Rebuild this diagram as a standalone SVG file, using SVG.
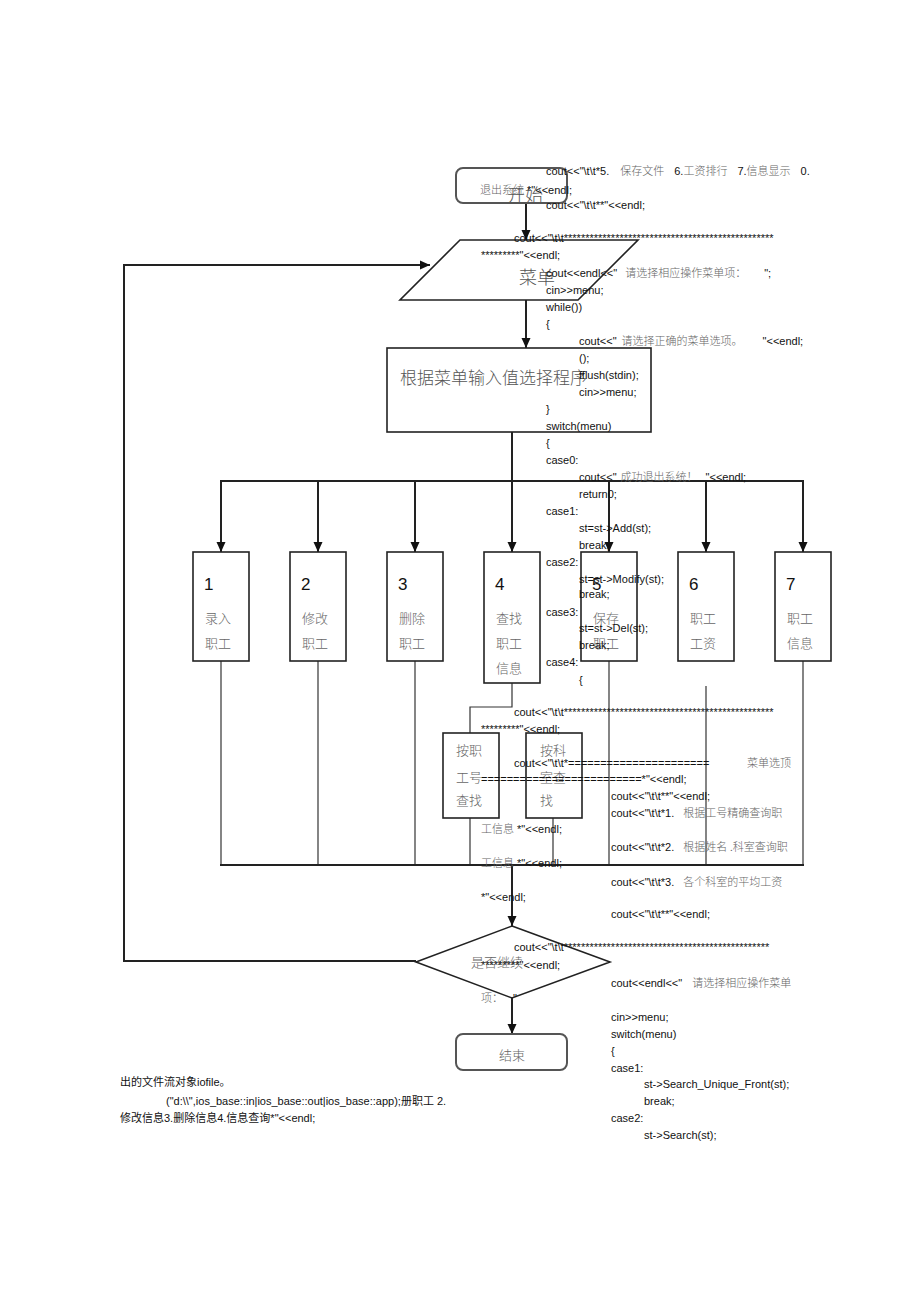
<svg xmlns="http://www.w3.org/2000/svg" width="920" height="1303" viewBox="0 0 920 1303">
<defs>
<marker id="ah" markerUnits="userSpaceOnUse" markerWidth="10" markerHeight="10" refX="10" refY="5" orient="auto">
<path d="M0,0.5 L10,5 L0,9.5 z" fill="#111"/>
</marker>
<style>
.bg{fill:#fff}
.box{fill:#fff;stroke:#222;stroke-width:1.6}
.rbox{fill:#fff;stroke:#555;stroke-width:2}
.ln{fill:none;stroke:#222;stroke-width:2}
.tl{fill:none;stroke:#333;stroke-width:1.2}
.big{font-family:"Liberation Serif","Noto Sans CJK SC",serif;font-size:18px;fill:#555;font-weight:300}
.lbl{font-family:"Liberation Serif","Noto Sans CJK SC",serif;font-size:13px;fill:#666;font-weight:300}
.num{font-family:"Liberation Sans",Arial,sans-serif;font-size:17px;fill:#111}
.code{font-family:"Liberation Sans","Noto Sans CJK SC",sans-serif;font-size:11px;fill:#111}
.cn{font-family:"Liberation Serif","Noto Sans CJK SC",serif;fill:#666;font-weight:300}
.bl{font-family:"Liberation Sans","Noto Sans CJK SC",sans-serif;font-size:11px;fill:#111}
</style>
</defs>
<rect class="bg" x="0" y="0" width="920" height="1303"/>

<g id="connectors">
<line class="ln" x1="526" y1="203" x2="526" y2="240" marker-end="url(#ah)"/>
<line class="ln" x1="526" y1="300" x2="526" y2="348" marker-end="url(#ah)"/>
<line class="ln" x1="512" y1="432" x2="512" y2="552" marker-end="url(#ah)"/>
<line class="ln" x1="220" y1="481" x2="804" y2="481"/>
<line class="ln" x1="221" y1="481" x2="221" y2="552" marker-end="url(#ah)"/>
<line class="ln" x1="318" y1="481" x2="318" y2="552" marker-end="url(#ah)"/>
<line class="ln" x1="415" y1="481" x2="415" y2="552" marker-end="url(#ah)"/>
<line class="ln" x1="609" y1="481" x2="609" y2="552" marker-end="url(#ah)"/>
<line class="ln" x1="706" y1="481" x2="706" y2="552" marker-end="url(#ah)"/>
<line class="ln" x1="803" y1="481" x2="803" y2="552" marker-end="url(#ah)"/>
<line class="tl" x1="221" y1="661" x2="221" y2="865"/>
<line class="tl" x1="318" y1="661" x2="318" y2="865"/>
<line class="tl" x1="415" y1="661" x2="415" y2="865"/>
<line class="tl" x1="609" y1="661" x2="609" y2="865"/>
<line class="tl" x1="706" y1="686" x2="706" y2="865"/>
<line class="tl" x1="803" y1="661" x2="803" y2="865"/>
<polyline class="tl" points="512,683 512,707 470,707 470,733"/>
<line class="tl" x1="470" y1="818" x2="470" y2="865"/>
<line class="tl" x1="553" y1="818" x2="553" y2="865"/>
<line class="ln" x1="220" y1="865" x2="804" y2="865"/>
<line class="ln" x1="512" y1="865" x2="512" y2="926" marker-end="url(#ah)"/>
<line class="ln" x1="512" y1="998" x2="512" y2="1034" marker-end="url(#ah)"/>
<polyline class="ln" points="416,961 124,961 124,265 430,265" marker-end="url(#ah)"/>
</g>

<g id="start">
<rect class="rbox" x="456" y="168" width="111" height="35" rx="7"/>
<text class="big" x="507" y="202">开始</text>
</g>

<g id="menu">
<polygon class="box" points="460,240 638,240 578,300 400,300"/>
<text class="big" x="519" y="284">菜单</text>
</g>

<g id="select">
<rect class="box" x="387" y="348" width="264" height="84"/>
<text class="big" x="400" y="384" style="font-size:17px">根据菜单输入值选择程序</text>
</g>

<g id="n1">
<rect class="box" x="193" y="552" width="56" height="109"/>
<text class="num" x="204" y="590">1</text>
<text class="lbl" x="205" y="623">录入</text>
<text class="lbl" x="205" y="648">职工</text>
</g>
<g id="n2">
<rect class="box" x="290" y="552" width="56" height="109"/>
<text class="num" x="301" y="590">2</text>
<text class="lbl" x="302" y="623">修改</text>
<text class="lbl" x="302" y="648">职工</text>
</g>
<g id="n3">
<rect class="box" x="387" y="552" width="56" height="109"/>
<text class="num" x="398" y="590">3</text>
<text class="lbl" x="399" y="623">删除</text>
<text class="lbl" x="399" y="648">职工</text>
</g>
<g id="n4">
<rect class="box" x="484" y="552" width="56" height="131"/>
<text class="num" x="495" y="590">4</text>
<text class="lbl" x="496" y="623">查找</text>
<text class="lbl" x="496" y="648">职工</text>
<text class="lbl" x="496" y="673">信息</text>
</g>
<g id="n5">
<rect class="box" x="581" y="552" width="56" height="109"/>
<text class="num" x="592" y="590">5</text>
<text class="lbl" x="593" y="623">保存</text>
<text class="lbl" x="593" y="648">职工</text>
</g>
<g id="n6">
<rect class="box" x="678" y="552" width="56" height="109"/>
<text class="num" x="689" y="590">6</text>
<text class="lbl" x="690" y="623">职工</text>
<text class="lbl" x="690" y="648">工资</text>
</g>
<g id="n7">
<rect class="box" x="775" y="552" width="56" height="109"/>
<text class="num" x="786" y="590">7</text>
<text class="lbl" x="787" y="623">职工</text>
<text class="lbl" x="787" y="648">信息</text>
</g>

<g id="s1">
<rect class="box" x="443" y="733" width="56" height="85"/>
<text class="lbl" x="456" y="755">按职</text>
<text class="lbl" x="456" y="782">工号</text>
<text class="lbl" x="456" y="805">查找</text>
</g>
<g id="s2">
<rect class="box" x="526" y="733" width="56" height="85"/>
<text class="lbl" x="540" y="755">按科</text>
<text class="lbl" x="540" y="782">室查</text>
<text class="lbl" x="540" y="805">找</text>
</g>

<g id="continue">
<polygon class="box" points="512,926 610,962 512,998 416,962"/>
<text class="lbl" x="471" y="967">是否继续</text>
</g>

<g id="end">
<rect class="rbox" x="456" y="1034" width="111" height="36" rx="7"/>
<text class="lbl" x="499" y="1060">结束</text>
</g>

<g id="code">
<text class="code" x="546" y="175">cout&lt;&lt;"\t\t*5.<tspan class="cn" dx="11">保存文件</tspan><tspan dx="10">6.</tspan><tspan class="cn">工资排行</tspan><tspan dx="10">7.</tspan><tspan class="cn">信息显示</tspan><tspan dx="10">0.</tspan></text>
<text class="code" x="480" y="194"><tspan class="cn">退出系统</tspan> *"&lt;&lt;endl;</text>
<text class="code" x="546" y="209">cout&lt;&lt;"\t\t**"&lt;&lt;endl;</text>
<text class="code" x="514" y="242">cout&lt;&lt;"\t\t*************************************************</text>
<text class="code" x="481" y="259">*********"&lt;&lt;endl;</text>
<text class="code" x="546" y="277">cout&lt;&lt;endl&lt;&lt;"<tspan class="cn" dx="8">请选择相应操作菜单项：</tspan><tspan dx="18">";</tspan></text>
<text class="code" x="546" y="294">cin&gt;&gt;menu;</text>
<text class="code" x="546" y="311">while())</text>
<text class="code" x="546" y="328">{</text>
<text class="code" x="579" y="345">cout&lt;&lt;"<tspan class="cn" dx="5">请选择正确的菜单选项。</tspan><tspan dx="20">"&lt;&lt;endl;</tspan></text>
<text class="code" x="579" y="362">();</text>
<text class="code" x="579" y="379">fflush(stdin);</text>
<text class="code" x="579" y="396">cin&gt;&gt;menu;</text>
<text class="code" x="546" y="413">}</text>
<text class="code" x="546" y="430">switch(menu)</text>
<text class="code" x="546" y="447">{</text>
<text class="code" x="546" y="464">case0:</text>
<text class="code" x="579" y="481">cout&lt;&lt;"<tspan class="cn" dx="4">成功退出系统！</tspan><tspan dx="8">"&lt;&lt;endl;</tspan></text>
<text class="code" x="579" y="498">return0;</text>
<text class="code" x="546" y="515">case1:</text>
<text class="code" x="579" y="532">st=st-&gt;Add(st);</text>
<text class="code" x="579" y="549">break;</text>
<text class="code" x="546" y="566">case2:</text>
<text class="code" x="579" y="583">st=st-&gt;Modify(st);</text>
<text class="code" x="579" y="598">break;</text>
<text class="code" x="546" y="616">case3:</text>
<text class="code" x="579" y="632">st=st-&gt;Del(st);</text>
<text class="code" x="579" y="649">break;</text>
<text class="code" x="546" y="666">case4:</text>
<text class="code" x="579" y="684">{</text>
<text class="code" x="514" y="716">cout&lt;&lt;"\t\t*************************************************</text>
<text class="code" x="481" y="733">*********"&lt;&lt;endl;</text>
<text class="code" x="514" y="767">cout&lt;&lt;"\t\t*======================<tspan class="cn" x="747">菜单选顶</tspan></text>
<text class="code" x="481" y="783">=========================*"&lt;&lt;endl;</text>
<text class="code" x="611" y="800">cout&lt;&lt;"\t\t**"&lt;&lt;endl;</text>
<text class="code" x="611" y="817">cout&lt;&lt;"\t\t*1.<tspan class="cn" dx="9">根据工号精确查询职</tspan></text>
<text class="code" x="481" y="833"><tspan class="cn">工信息</tspan> *"&lt;&lt;endl;</text>
<text class="code" x="611" y="851">cout&lt;&lt;"\t\t*2.<tspan class="cn" dx="9">根据姓名 .科室查询职</tspan></text>
<text class="code" x="481" y="867"><tspan class="cn">工信息</tspan> *"&lt;&lt;endl;</text>
<text class="code" x="611" y="886">cout&lt;&lt;"\t\t*3.<tspan class="cn" dx="9">各个科室的平均工资</tspan></text>
<text class="code" x="481" y="901">*"&lt;&lt;endl;</text>
<text class="code" x="611" y="918">cout&lt;&lt;"\t\t**"&lt;&lt;endl;</text>
<text class="code" x="514" y="951">cout&lt;&lt;"\t\t************************************************</text>
<text class="code" x="481" y="969">*********"&lt;&lt;endl;</text>
<text class="code" x="611" y="987">cout&lt;&lt;endl&lt;&lt;"<tspan class="cn" dx="10">请选择相应操作菜单</tspan></text>
<text class="code" x="481" y="1002"><tspan class="cn">项：</tspan><tspan dx="10">"</tspan></text>
<text class="code" x="611" y="1021">cin&gt;&gt;menu;</text>
<text class="code" x="611" y="1038">switch(menu)</text>
<text class="code" x="611" y="1055">{</text>
<text class="code" x="611" y="1072">case1:</text>
<text class="code" x="644" y="1088">st-&gt;Search_Unique_Front(st);</text>
<text class="code" x="644" y="1105">break;</text>
<text class="code" x="611" y="1122">case2:</text>
<text class="code" x="644" y="1139">st-&gt;Search(st);</text>
</g>

<g id="notes">
<text class="bl" x="120" y="1086">出的文件流对象iofile。</text>
<text class="bl" x="166" y="1105">("d:\\",ios_base::in|ios_base::out|ios_base::app);册职工  2.</text>
<text class="bl" x="120" y="1122">修改信息3.删除信息4.信息查询*"&lt;&lt;endl;</text>
</g>
</svg>
